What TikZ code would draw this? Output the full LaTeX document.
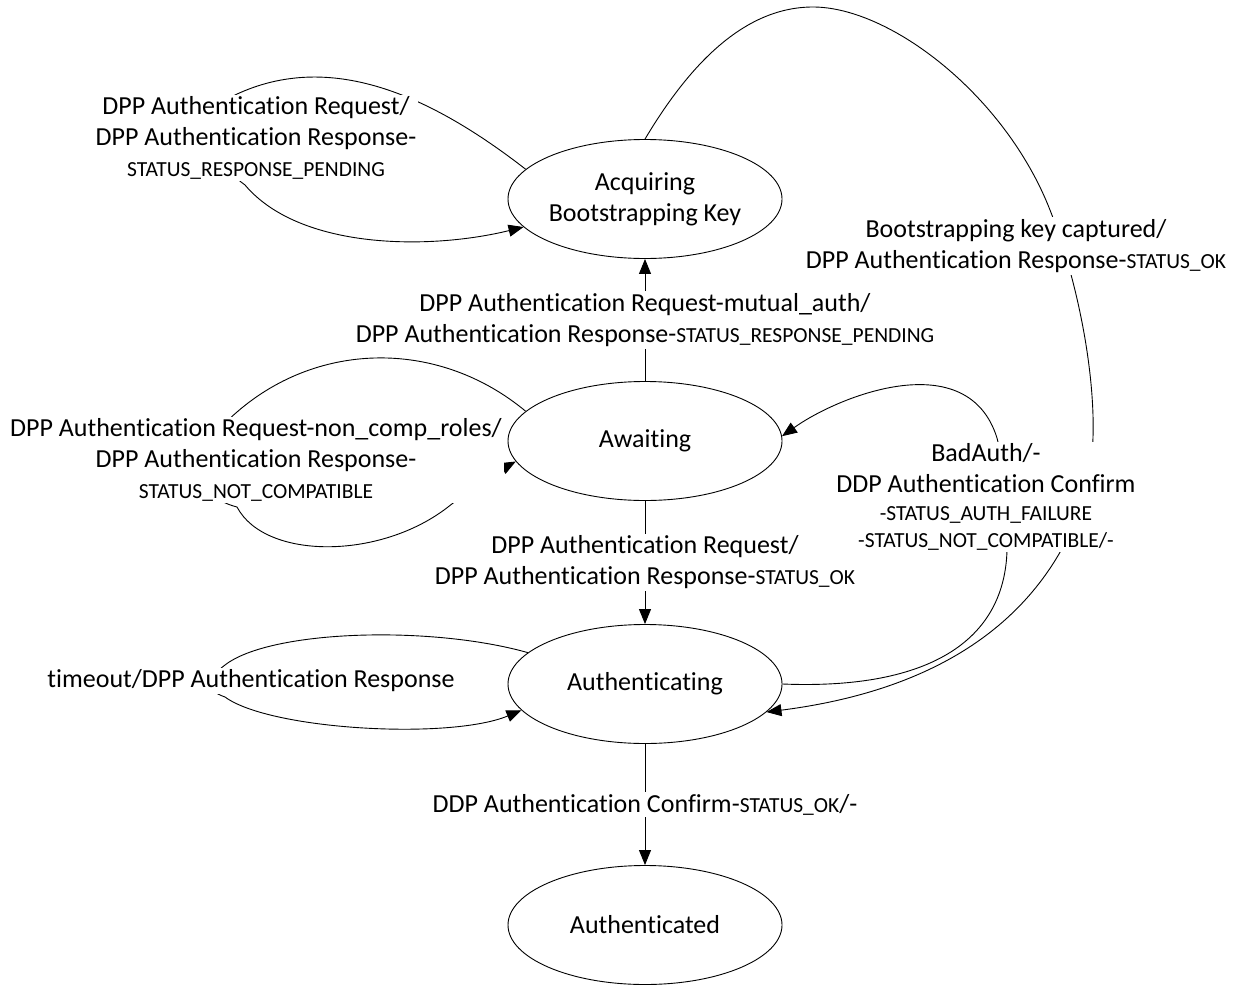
\documentclass[tikz,border=0pt]{standalone}
\usepackage{fontspec}
\setmainfont{Carlito}[Ligatures={NoCommon}]
\usetikzlibrary{arrows.meta,shapes.geometric}
\newcommand\smalltext{\fontsize{21.5}{26}\selectfont}
\begin{document}
\begin{tikzpicture}[x=1pt,y=-1pt,
  font=\fontsize{26}{31}\selectfont,
  state/.style={ellipse,draw,line width=0.9pt,minimum width=274pt,minimum height=119pt,inner sep=0pt,align=center},
  conn/.style={line width=0.9pt},
  arr/.style={conn,-{Triangle[length=15pt,width=12pt]}},
  lbl/.style={fill=white,align=center,inner sep=2pt}]
\useasboundingbox (0,0) rectangle (1239,985);

% states
\node[state] (acq)   at (645,199) {Acquiring\\Bootstrapping Key};
\node[state] (await) at (645,441) {Awaiting};
\node[state] (auth)  at (645,684) {Authenticating};
\node[state] (done)  at (645,925) {Authenticated};

% straight transitions
\draw[arr] (await) -- node[lbl] (lmutual) {DPP Authentication Request-mutual\_auth/\\DPP Authentication Response-{\smalltext STATUS\_RESPONSE\_PENDING}} (acq);
\draw[arr] (await) -- node[lbl] (lok) {DPP Authentication Request/\\DPP Authentication Response-{\smalltext STATUS\_OK}} (auth);
\draw[arr] (auth) -- node[lbl] (lconfirm) {DDP Authentication Confirm-{\smalltext STATUS\_OK}/-} (done);

% self loops on the left
\draw[arr] (acq.166) .. controls (430,95) and (330,50) .. (235,95)
  .. controls (200,112) and (210,160) .. (245,185)
  .. controls (300,250) and (430,250) .. (acq.193);
\draw[arr] (await.166) .. controls (440,340) and (320,340) .. (237,412)
  .. controls (190,452) and (190,495) .. (237,507)
  .. controls (265,560) and (380,560) .. (448,507)
  .. controls (480,482) and (500,470) .. (await.189);
\draw[arr] (auth.165) .. controls (430,625) and (270,630) .. (225,665)
  .. controls (205,680) and (205,690) .. (225,697)
  .. controls (270,730) and (450,740) .. (auth.192);

% long arcs on the right
\draw[arr] (acq.north) .. controls (685,72) and (740,7) .. (813,7)
  .. controls (890,7) and (1005,95) .. (1050,210)
  .. controls (1077,279) and (1095,370) .. (1093,437)
  .. controls (1092,480) and (1078,523) .. (1056,559)
  .. controls (1000,650) and (900,695) .. (auth.-13);
\draw[arr] (auth.east) .. controls (930,690) and (1010,640) .. (1007,540)
  .. controls (1007,510) and (1008,482) .. (997,438)
  .. controls (968,345) and (840,395) .. (await.2);

% labels of the curved transitions
\node[lbl] (lpending) at (256,138) {DPP Authentication Request/\\DPP Authentication Response-\\{\smalltext STATUS\_RESPONSE\_PENDING}};
\node[lbl] (lnoncomp) at (256,460) {DPP Authentication Request-non\_comp\_roles/\\DPP Authentication Response-\\{\smalltext STATUS\_NOT\_COMPATIBLE}};
\node[lbl] (ltimeout) at (251,681) {timeout/DPP Authentication Response};
\node[lbl] (lcaptured) at (1016,246) {Bootstrapping key captured/\\DPP Authentication Response-{\smalltext STATUS\_OK}};
\node[lbl] (lbadauth) at (986,497) {BadAuth/-\\DDP Authentication Confirm\\[-3.5pt]{\smalltext -STATUS\_AUTH\_FAILURE}\\[-4pt]{\smalltext -STATUS\_NOT\_COMPATIBLE/-}};
\end{tikzpicture}
\end{document}
